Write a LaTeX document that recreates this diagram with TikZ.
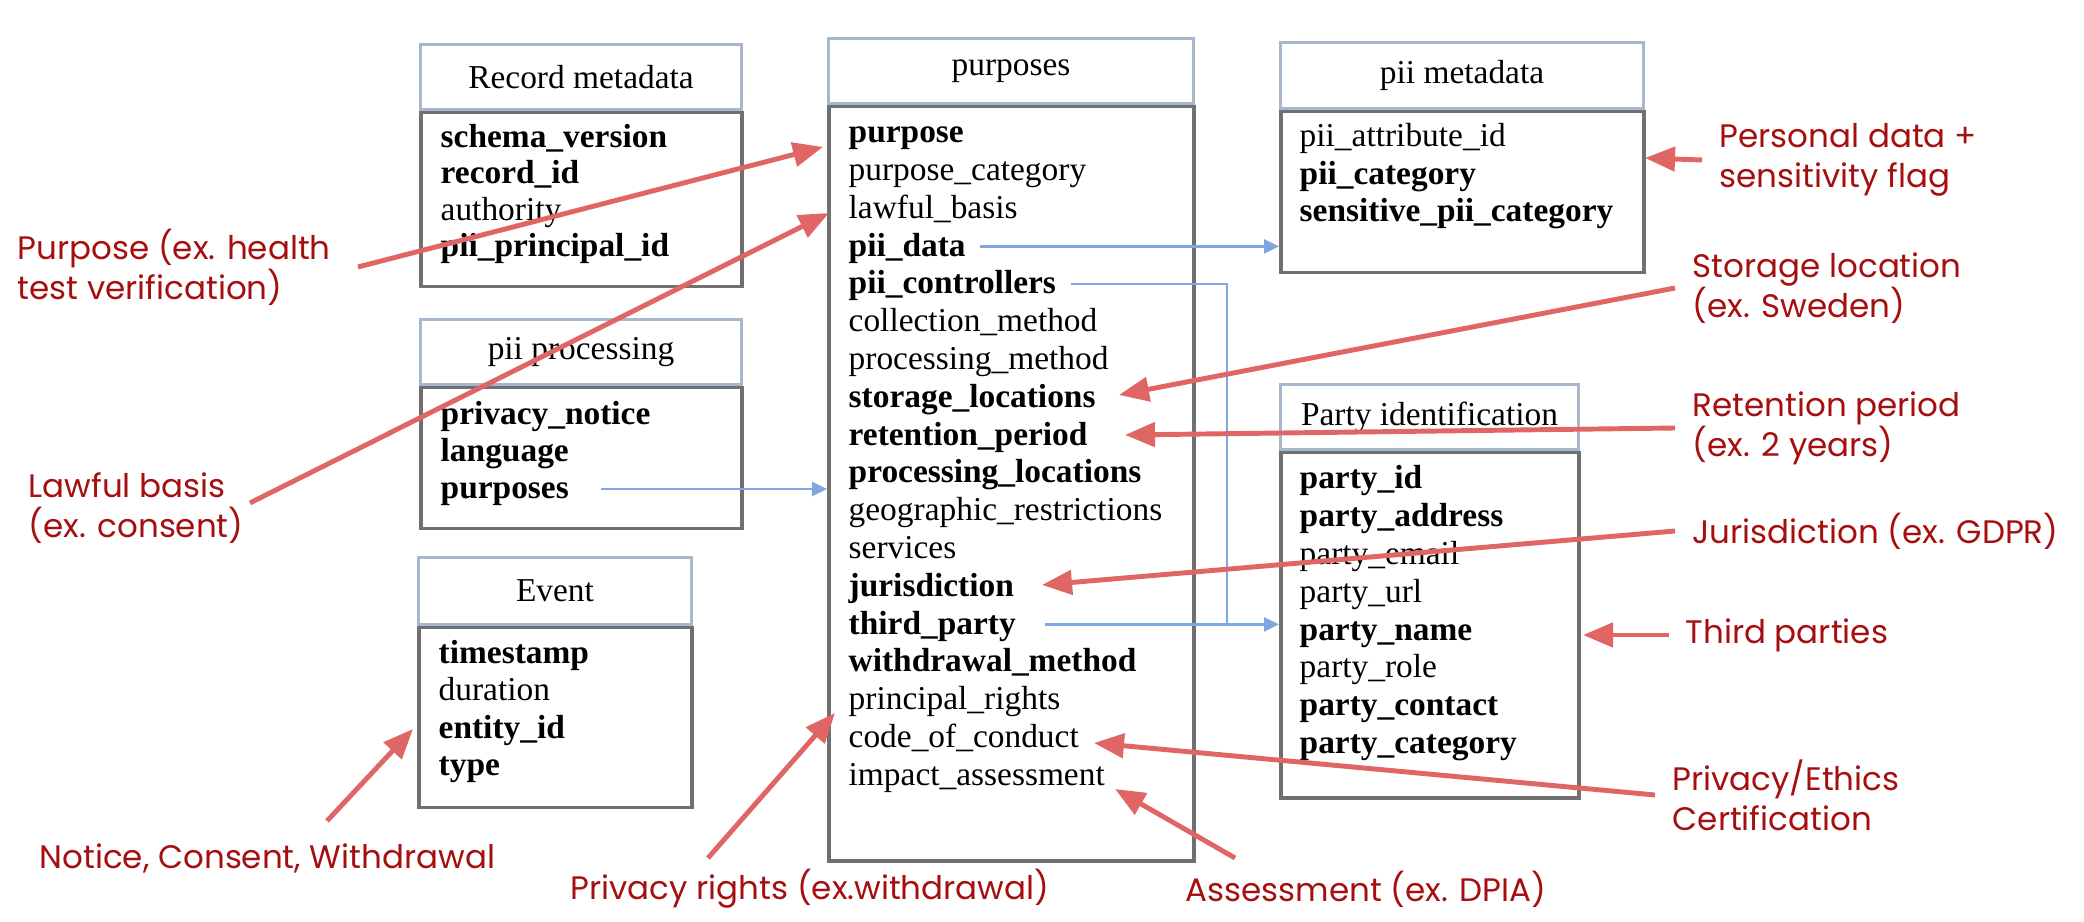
\documentclass[tikz,border=0pt]{standalone}
\usepackage{fontspec}
\setmainfont{Liberation Serif}
\newfontfamily\notefont{Poppins}
\usetikzlibrary{arrows.meta}

\definecolor{notered}{HTML}{A50F0F}
\definecolor{arrowred}{HTML}{E06666}
\definecolor{linkblue}{HTML}{7EA6E0}
\definecolor{framegray}{HTML}{707070}
\definecolor{headblue}{HTML}{A7B8CE}

\tikzset{
  tblhead/.style={draw=headblue, line width=0.8pt, anchor=north west, inner sep=0pt,
    font=\fontsize{9.5}{11}\selectfont},
  tblbody/.style={draw=framegray, line width=1pt, anchor=north west, inner sep=0pt},
  field/.style={anchor=west, inner sep=0pt, font=\fontsize{9.5}{11}\selectfont,
    text height=1.6ex, text depth=0.4ex},
  link/.style={linkblue, line width=0.7pt, -{Triangle[length=1.5mm,width=1.4mm]}},
  note/.style={anchor=west, inner sep=0pt, align=left, text=notered,
    font=\notefont\fontsize{9.25}{11.3}\selectfont},
  callout/.style={arrowred, line width=1.4pt, -{Triangle[length=3mm,width=2.4mm]}}
}

\begin{document}
\begin{tikzpicture}[x=0.01cm,y=-0.01cm]
\path[fill=white,use as bounding box] (0,0) rectangle (2084,922);

% Record metadata
\node[tblhead, minimum width=3.21cm, minimum height=0.65cm] (rec) at (419,43) {Record metadata};
\node[tblbody, minimum width=3.21cm, minimum height=1.74cm] (recb) at (rec.south west) {};
\foreach \t [count=\i] in {\textbf{schema\_version}, \textbf{record\_id}, authority, \textbf{pii\_principal\_id}}
  \node[field] (rec\i) at (440,101.7+36.3*\i) {\t};

% pii processing
\node[tblhead, minimum width=3.21cm, minimum height=0.65cm] (proc) at (419,318) {pii processing};
\node[tblbody, minimum width=3.21cm, minimum height=1.41cm] (procb) at (proc.south west) {};
\foreach \t [count=\i] in {\textbf{privacy\_notice}, \textbf{language}, \textbf{purposes}}
  \node[field] (proc\i) at (440,378+37*\i) {\t};

% Event
\node[tblhead, minimum width=2.73cm, minimum height=0.67cm] (evt) at (417,556) {Event};
\node[tblbody, minimum width=2.73cm, minimum height=1.80cm] (evtb) at (evt.south west) {};
\foreach \t [count=\i] in {\textbf{timestamp}, duration, \textbf{entity\_id}, \textbf{type}}
  \node[field] (evt\i) at (438,616.7+37.3*\i) {\t};

% purposes
\node[tblhead, minimum width=3.65cm, minimum height=0.65cm] (pur) at (827,37) {purposes};
\node[tblbody, minimum width=3.65cm, minimum height=7.54cm] (purb) at (pur.south west) {};
\foreach \t [count=\i] in {\textbf{purpose}, purpose\_category, lawful\_basis, \textbf{pii\_data},
    \textbf{pii\_controllers}, collection\_method, processing\_method, \textbf{storage\_locations},
    \textbf{retention\_period}, \textbf{processing\_locations}, geographic\_restrictions, services,
    \textbf{jurisdiction}, \textbf{third\_party}, \textbf{withdrawal\_method}, principal\_rights,
    code\_of\_conduct, impact\_assessment}
  \node[field] (pur\i) at (848,95.2+37.8*\i) {\t};

% pii metadata
\node[tblhead, minimum width=3.63cm, minimum height=0.66cm] (pm) at (1279,41) {pii metadata};
\node[tblbody, minimum width=3.63cm, minimum height=1.61cm] (pmb) at (pm.south west) {};
\foreach \t [count=\i] in {pii\_attribute\_id, \textbf{pii\_category}, \textbf{sensitive\_pii\_category}}
  \node[field] (pm\i) at (1299,99.5+37.5*\i) {\t};

% Party identification
\node[tblhead, minimum width=2.98cm, minimum height=0.65cm] (pty) at (1279,383) {Party identification};
\node[tblbody, minimum width=2.98cm, minimum height=3.45cm] (ptyb) at (pty.south west) {};
\foreach \t [count=\i] in {\textbf{party\_id}, \textbf{party\_address}, party\_email, party\_url,
    \textbf{party\_name}, party\_role, \textbf{party\_contact}, \textbf{party\_category}}
  \node[field] (pty\i) at (1299,441.1+37.86*\i) {\t};

% Links between tables
\coordinate (cjoin) at (1227,0);
\draw[link] ([xshift=4pt]pur4.east) -- (pur4 -| pmb.west);
\draw[linkblue, line width=0.7pt] ([xshift=4pt]pur5.east) -| (cjoin |- pur14);
\draw[link] ([xshift=8pt]pur14.east) -- (pur14 -| ptyb.west);
\draw[link] ([xshift=9pt]proc3.east) -- (proc3 -| purb.west);

% Notes
\node[note] (nPurpose) at (17,267) {Purpose (ex. health\\test verification)};
\node[note] (nLawful) at (28,508) {Lawful basis\\(ex. consent)};
\node[note] (nNotice) at (39,858) {Notice, Consent, Withdrawal};
\node[note] (nRights) at (570,889) {Privacy rights (ex.withdrawal)};
\node[note] (nAssess) at (1185,889) {Assessment (ex. DPIA)};
\node[note] (nPersonal) at (1719,160) {Personal data +\\sensitivity flag};
\node[note] (nStorage) at (1692,288) {Storage location\\(ex. Sweden)};
\node[note] (nRetention) at (1692,428) {Retention period\\(ex. 2 years)};
\node[note] (nJuris) at (1692,531) {Jurisdiction (ex. GDPR)};
\node[note] (nThird) at (1685,635) {Third parties};
\node[note] (nEthics) at (1672,795) {Privacy/Ethics\\Certification};

% Arrow ends
\coordinate (sPurpose) at (358,267);
\coordinate (tPurpose) at (823,147);
\coordinate (sLawful) at (250,503);
\coordinate (tLawful) at (829,213);
\coordinate (sNotice) at (327,821);
\coordinate (tNotice) at (413,729);
\coordinate (sRights) at (708,858);
\coordinate (tRights) at (835,713);
\coordinate (sAssess) at (1235,858);
\coordinate (tAssess) at (1115,789);
\coordinate (tPersonal) at (1645,158);
\coordinate (tStorage) at (1119,395);
\coordinate (tRetention) at (1125,435);
\coordinate (tJuris) at (1042,585);
\coordinate (tThird) at (1583,635);
\coordinate (tEthics) at (1094,743);

% Callout arrows
\draw[callout] (sPurpose) -- (tPurpose);
\draw[callout] (sLawful) -- (tLawful);
\draw[callout] (sNotice) -- (tNotice);
\draw[callout] (sRights) -- (tRights);
\draw[callout] (sAssess) -- (tAssess);
\draw[callout] ([xshift=-0.17cm]nPersonal.west) -- (tPersonal);
\draw[callout] ([xshift=-0.17cm]nStorage.west) -- (tStorage);
\draw[callout] ([xshift=-0.17cm]nRetention.west) -- (tRetention);
\draw[callout] ([xshift=-0.17cm]nJuris.west) -- (tJuris);
\draw[callout] ([xshift=-0.16cm]nThird.west) -- (tThird);
\draw[callout] ([xshift=-0.17cm]nEthics.west) -- (tEthics);
\end{tikzpicture}
\end{document}
